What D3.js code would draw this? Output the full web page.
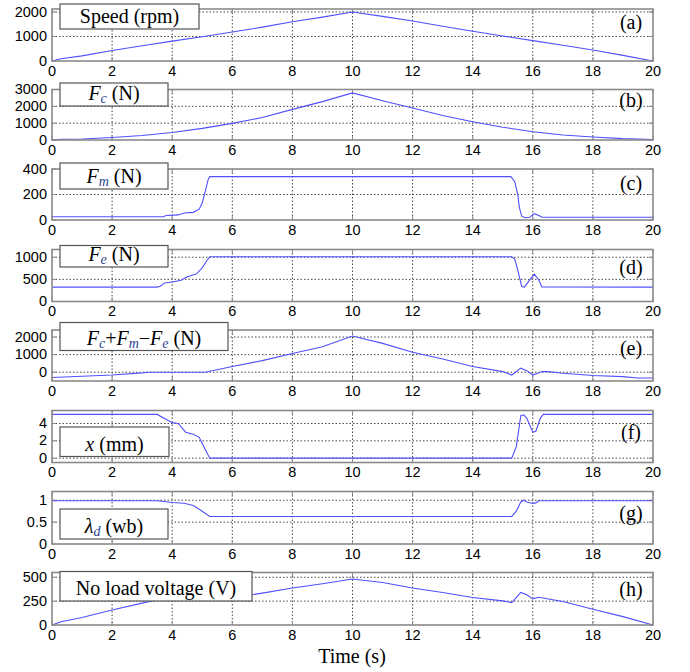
<!DOCTYPE html>
<meta charset="utf-8">
<style>
  body { margin: 0; background: #fff; }
  .frame { fill: none; stroke: #8a8a8a; stroke-width: 1.6; }
  .grid { stroke: #333; stroke-width: 0.9; stroke-dasharray: 1.5,2; }
  .tick { stroke: #8a8a8a; stroke-width: 1; }
  .tlab { font-family: "Liberation Sans", Arial, sans-serif; font-size: 14.5px; fill: #000; }
  .line { fill: none; stroke: #5050ff; stroke-width: 1.1; }
  .box { fill: #fff; stroke: #555; stroke-width: 1.2; }
  .serif { font-family: "Liberation Serif", "Times New Roman", serif; font-size: 20px; fill: #000; }
</style>
<svg width="690" height="672"></svg>
<script src="https://cdnjs.cloudflare.com/ajax/libs/d3/7.8.5/d3.min.js"></script>
<script>

// time axis ticks
var xTicks = [0, 2, 4, 6, 8, 10, 12, 14, 16, 18, 20];

// (a) speed (rpm)
var speedT = [0, 0.3, 1, 2, 3, 4, 5, 6, 7, 8, 9, 10, 11, 12, 13, 14, 15, 16, 17, 18, 19, 20];
var speed  = [0, 90, 210, 430, 620, 810, 990, 1180, 1380, 1600, 1790, 2000, 1820, 1630, 1420, 1210, 1020, 830, 640, 450, 230, 0];

// (b) Fc (N)
var fcT = [0, 0.3, 1, 2, 3, 4, 5, 6, 7, 8, 9, 10, 11, 12, 13, 14, 15, 16, 17, 18, 19, 20];
var fc  = [0, 40, 60, 150, 270, 450, 690, 990, 1340, 1820, 2280, 2800, 2330, 1900, 1460, 1080, 760, 490, 300, 180, 80, 30];

// (c) Fm (N)
var fmT = [0, 3.7, 3.8, 4.2, 4.4, 4.7, 4.9, 5.0, 5.1, 5.2, 5.25, 15.27, 15.4, 15.5, 15.55, 15.63, 15.75, 15.9, 16.05, 16.2, 16.3, 20];
var fm  = [25, 25, 35, 40, 55, 60, 85, 135, 225, 320, 340, 340, 300, 200, 100, 30, 18, 22, 50, 35, 21, 21];

// (d) Fe (N)
var feT = [0, 3.5, 3.6, 3.75, 4.0, 4.3, 4.5, 4.8, 5.0, 5.15, 5.25, 15.3, 15.4, 15.5, 15.63, 15.72, 15.9, 16.05, 16.2, 16.3, 20];
var fe  = [325, 325, 345, 420, 440, 480, 560, 620, 760, 920, 1010, 1010, 960, 710, 340, 325, 487, 620, 487, 330, 325];

// (e) Fc + Fm - Fe (N)
var fsT = [0, 1, 2, 3, 3.2, 5.1, 6, 7, 8, 9, 10, 11, 12, 13, 14, 15, 15.3, 15.6, 15.8, 16, 16.1, 16.3, 16.5, 17, 18, 19, 19.5, 20];
var fs  = [-300, -230, -156, -40, 0, 0, 320, 660, 1060, 1450, 2060, 1640, 1133, 750, 323, 35, -160, 230, 90, -160, -100, 35, 35, -60, -190, -250, -330, -330];

// (f) x (mm)
var xmT = [0, 3.5, 3.85, 4.0, 4.2, 4.45, 4.7, 4.9, 5.0, 5.25, 15.3, 15.45, 15.6, 15.7, 15.8, 16.0, 16.1, 16.25, 16.35, 20];
var xm  = [5.05, 5.05, 4.38, 4.1, 4.0, 3.0, 2.75, 2.4, 1.7, 0, 0, 1.3, 4.9, 5.0, 4.6, 3.0, 3.1, 4.6, 5.05, 5.05];

// (g) lambda_d (wb)
var ldT = [0, 3.5, 4.0, 4.4, 4.7, 5.0, 5.25, 15.3, 15.45, 15.6, 15.7, 15.8, 16.0, 16.1, 16.2, 20];
var ld  = [0.99, 0.99, 0.95, 0.93, 0.88, 0.75, 0.63, 0.63, 0.75, 0.96, 1.0, 0.96, 0.925, 0.94, 0.99, 0.99];

// (h) no load voltage (V)
var vT = [0, 0.3, 1, 2, 3, 4, 4.5, 4.9, 5.0, 5.2, 5.3, 6, 7, 8, 9, 10, 11, 12, 13, 14, 15, 15.3, 15.6, 15.8, 16, 16.2, 17, 18, 19, 20];
var v  = [0, 35, 78, 158, 229, 299, 316, 323, 315, 264, 256, 288, 334, 387, 432, 482, 446, 387, 341, 288, 253, 235, 341, 316, 274, 290, 246, 165, 88, 0];

var sub = "#1f3f8f";
var panels = [
  { t: speedT, y: speed, dom: [0, 2120], ticks: [0, 1000, 2000], top: 9, bot: 61, tag: "(a)", tagY: 14,
    box: [60, 4, 199, 29], label: [{ s: "Speed (rpm)" }] },
  { t: fcT, y: fc, dom: [0, 3000], ticks: [0, 1000, 2000, 3000], top: 89.5, bot: 140, tag: "(b)", tagY: 11,
    box: [60, 83, 168, 106], label: [{ s: "F", i: 1 }, { s: "c", sub: 1 }, { s: " (N)" }] },
  { t: fmT, y: fm, dom: [0, 400], ticks: [0, 200, 400], top: 169, bot: 220, tag: "(c)", tagY: 15,
    box: [60, 163, 168, 189], label: [{ s: "F", i: 1 }, { s: "m", sub: 1 }, { s: " (N)" }] },
  { t: feT, y: fe, dom: [0, 1175], ticks: [0, 500, 1000], top: 249.5, bot: 301.5, tag: "(d)", tagY: 18,
    box: [60, 245.5, 168, 267], label: [{ s: "F", i: 1 }, { s: "e", sub: 1 }, { s: " (N)" }] },
  { t: fsT, y: fs, dom: [-500, 2400], ticks: [0, 1000, 2000], top: 330, bot: 381, tag: "(e)", tagY: 19,
    box: [60, 322.5, 228, 350.5],
    label: [{ s: "F", i: 1 }, { s: "c", sub: 1 }, { s: "+" }, { s: "F", i: 1 }, { s: "m", sub: 1 },
            { s: "\u2212" }, { s: "F", i: 1 }, { s: "e", sub: 1 }, { s: " (N)" }] },
  { t: xmT, y: xm, dom: [-0.5, 5.5], ticks: [0, 2, 4], top: 410.5, bot: 462.5, tag: "(f)", tagY: 22,
    box: [60, 427, 169, 456.5], label: [{ s: "x", i: 1 }, { s: " (mm)" }] },
  { t: ldT, y: ld, dom: [0, 1.2], ticks: [0, 0.5, 1], top: 491.5, bot: 544, tag: "(g)", tagY: 22,
    box: [60, 509, 168, 539], label: [{ s: "\u03bb", i: 1 }, { s: "d", sub: 1 }, { s: " (wb)" }] },
  { t: vT, y: v, dom: [0, 550], ticks: [0, 250, 500], top: 572.5, bot: 625, tag: "(h)", tagY: 17,
    box: [60, 571.5, 252, 601], label: [{ s: "No load voltage (V)" }] }
];

var svg = d3.select("svg");
var x = d3.scaleLinear().domain([0, 20]).range([52, 653]);

panels.forEach(function(p) {
  var y = d3.scaleLinear().domain(p.dom).range([p.bot, p.top]);
  var g = svg.append("g");

  // grid
  g.selectAll(".gx").data(xTicks.slice(1, -1)).enter().append("line")
      .attr("class", "grid")
      .attr("x1", d => x(d)).attr("x2", d => x(d))
      .attr("y1", p.top).attr("y2", p.bot);
  g.selectAll(".gy").data(p.ticks.filter(d => y(d) > p.top + 1 && y(d) < p.bot - 1)).enter().append("line")
      .attr("class", "grid")
      .attr("x1", x(0)).attr("x2", x(20))
      .attr("y1", d => y(d)).attr("y2", d => y(d));

  // inner ticks
  xTicks.forEach(function(d) {
    g.append("line").attr("class", "tick").attr("x1", x(d)).attr("x2", x(d)).attr("y1", p.bot).attr("y2", p.bot - 4);
    g.append("line").attr("class", "tick").attr("x1", x(d)).attr("x2", x(d)).attr("y1", p.top).attr("y2", p.top + 4);
  });
  p.ticks.forEach(function(d) {
    g.append("line").attr("class", "tick").attr("x1", x(0)).attr("x2", x(0) + 4).attr("y1", y(d)).attr("y2", y(d));
    g.append("line").attr("class", "tick").attr("x1", x(20)).attr("x2", x(20) - 4).attr("y1", y(d)).attr("y2", y(d));
  });

  // data line
  var line = d3.line().x((d, i) => x(p.t[i])).y(d => y(d));
  g.append("path").datum(p.y).attr("class", "line").attr("d", line);

  // frame
  g.append("rect").attr("class", "frame")
      .attr("x", x(0)).attr("y", p.top)
      .attr("width", x(20) - x(0)).attr("height", p.bot - p.top);

  // tick labels
  g.selectAll(".xl").data(xTicks).enter().append("text")
      .attr("class", "tlab").attr("text-anchor", "middle")
      .attr("x", d => x(d)).attr("y", p.bot + 14.5)
      .text(d => d);
  g.selectAll(".yl").data(p.ticks).enter().append("text")
      .attr("class", "tlab").attr("text-anchor", "end")
      .attr("x", 47).attr("y", d => y(d)).attr("dy", "0.32em")
      .text(d => d);

  // panel tag
  g.append("text").attr("class", "serif").attr("text-anchor", "middle")
      .attr("x", 631).attr("y", p.top + p.tagY).attr("dy", "0.3em")
      .text(p.tag);

  // label box
  var b = p.box;
  g.append("rect").attr("class", "box")
      .attr("x", b[0]).attr("y", b[1]).attr("width", b[2] - b[0]).attr("height", b[3] - b[1]);
  var t = g.append("text").attr("class", "serif").attr("text-anchor", "middle")
      .attr("x", (b[0] + b[2]) / 2).attr("y", b[3] - 6);
  p.label.forEach(function(part, k) {
    var ts = t.append("tspan").text(part.s);
    if (part.i) ts.attr("font-style", "italic");
    if (part.sub) ts.attr("font-style", "italic").attr("font-size", "14px")
        .attr("fill", sub).attr("dy", 3);
    else if (k > 0 && p.label[k - 1].sub) ts.attr("dy", -3);
  });
});

svg.append("text").attr("class", "serif").attr("text-anchor", "middle")
    .attr("x", 352).attr("y", 663)
    .text("Time (s)");

</script>
